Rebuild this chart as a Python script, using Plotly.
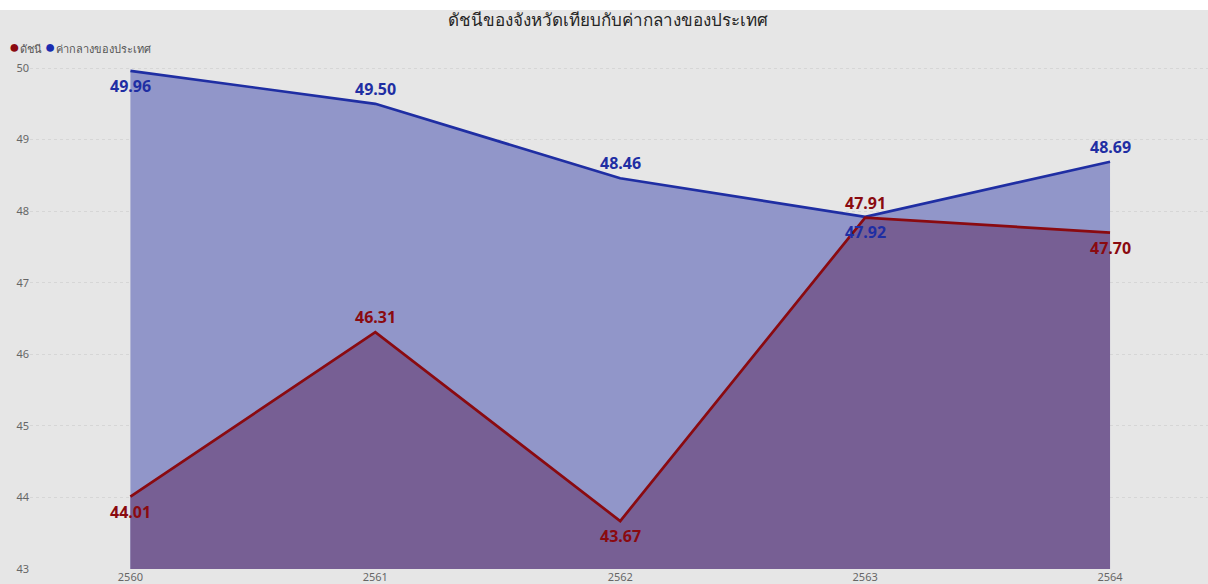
import plotly.graph_objects as go

years = ["2560", "2561", "2562", "2563", "2564"]
x_vals = [2560, 2561, 2562, 2563, 2564]
index_vals = [44.01, 46.31, 43.67, 47.91, 47.70]
national_vals = [49.96, 49.50, 48.46, 47.92, 48.69]
index_side = [-1, 1, -1, 1, -1]      # +1 label above point, -1 below
national_side = [-1, 1, 1, -1, 1]
y_ticks = [43, 44, 45, 46, 47, 48, 49, 50]
series_names = ["ดัชนี", "ค่ากลางของประเทศ"]

RED = "#8a0a10"
BLUE = "#1f2ea3"
BG = "#e6e6e6"
FONT = "Noto Sans"

fig = go.Figure()
fig.add_trace(go.Scatter(
    x=x_vals, y=national_vals, name=series_names[1], mode="lines",
    line=dict(color=BLUE, width=2.7), fill="tozeroy", fillcolor="#9196c9",
))
fig.add_trace(go.Scatter(
    x=x_vals, y=index_vals, name=series_names[0], mode="lines",
    line=dict(color=RED, width=2.7), fill="tozeroy", fillcolor="#775f94",
))

annotations = []
for xv, yv, s in zip(x_vals, national_vals, national_side):
    annotations.append(dict(x=xv, y=yv, text=f"<b>{yv:.2f}</b>", showarrow=False,
                            yshift=15 * s, font=dict(color=BLUE, size=16, family=FONT)))
for xv, yv, s in zip(x_vals, index_vals, index_side):
    annotations.append(dict(x=xv, y=yv, text=f"<b>{yv:.2f}</b>", showarrow=False,
                            yshift=15 * s, font=dict(color=RED, size=16, family=FONT)))
# legend drawn as text with circle glyphs
legend_text = (f"<span style='color:{RED};font-size:18px'>●</span>{series_names[0]} "
               f"<span style='color:#1a2bb0;font-size:18px'>●</span>{series_names[1]}")
annotations.append(dict(xref="paper", yref="paper", x=-(30 - 7) / 1178, xanchor="left",
                        y=(569 - 46) / 509, yanchor="middle", showarrow=False,
                        text=legend_text,
                        font=dict(size=11, color="#555555", family=FONT)))

fig.update_layout(
    width=1208, height=584,
    paper_bgcolor="white", plot_bgcolor=BG,
    margin=dict(l=30, r=0, t=60, b=15, autoexpand=False),
    title=dict(text="ดัชนีของจังหวัดเทียบกับค่ากลางของประเทศ", x=608 / 1208, xref="container",
               xanchor="center", y=1 - 20 / 584, yanchor="middle",
               font=dict(size=17, color="#252525", family=FONT)),
    showlegend=False,
    xaxis=dict(range=[2559.59, 2564.4], tickmode="array", tickvals=x_vals, ticktext=years,
               showgrid=False, zeroline=False, showline=False,
               tickfont=dict(size=11, color="#666666", family=FONT), ticks=""),
    yaxis=dict(range=[43, 50.112], tickmode="array", tickvals=y_ticks,
               showgrid=True, gridcolor="#d6d6d6", griddash="dot", gridwidth=1,
               zeroline=False, showline=False,
               tickfont=dict(size=11, color="#666666", family=FONT), ticks=""),
    annotations=annotations,
    shapes=[
        dict(type="rect", xref="paper", yref="paper", x0=-0.03, x1=1.01,
             y0=-0.05, y1=(569 - 10) / 509, fillcolor=BG, line=dict(width=0), layer="below"),
    ],
)

fig.write_html("out.html", config={"displayModeBar": False},
               post_script="document.body.style.margin='0';document.body.style.overflow='hidden';")
